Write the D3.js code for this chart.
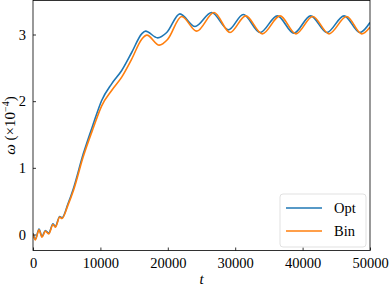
<!DOCTYPE html>
<html>
<head>
<meta charset="utf-8">
<script src="https://cdn.jsdelivr.net/npm/d3@7"></script>
<style>
  body { margin: 0; background: #fff; }
  svg text { font-family: "Liberation Serif", "DejaVu Serif", serif; }
</style>
</head>
<body>
<svg id="chart" width="391" height="289"></svg>
<script>
// series
const optT = [0, 350, 890, 1335, 1825, 2330, 2970, 3310, 3960, 4300, 5190, 6000, 7460, 8950, 10190, 11670, 13160, 14640, 16130, 16700, 18500, 19840, 21800, 24040, 26500, 29000, 31200, 33700, 36250, 38700, 41200, 43600, 46150, 48500, 50000];
const optW = [0.02, -0.07, 0.08, -0.03, 0.06, 0.02, 0.16, 0.12, 0.27, 0.25, 0.46, 0.69, 1.21, 1.66, 2.01, 2.26, 2.46, 2.73, 3.01, 3.05, 2.95, 3.03, 3.31, 3.12, 3.33, 3.07, 3.30, 3.03, 3.28, 3.02, 3.28, 3.03, 3.28, 3.03, 3.18];
const binT = [0, 350, 890, 1335, 1825, 2330, 2970, 3310, 3960, 4300, 5190, 6000, 7460, 8950, 10190, 11670, 13160, 14640, 16130, 16900, 18740, 20000, 22060, 24290, 26860, 29230, 31560, 34020, 36650, 39020, 41500, 43920, 46540, 48770, 50000];
const binW = [0.01, -0.08, 0.07, -0.04, 0.05, 0.01, 0.15, 0.11, 0.26, 0.24, 0.44, 0.66, 1.17, 1.60, 1.93, 2.16, 2.36, 2.63, 2.93, 2.99, 2.84, 2.93, 3.27, 3.05, 3.33, 3.03, 3.28, 3.01, 3.28, 3.01, 3.27, 3.01, 3.27, 3.01, 3.11];
const xTicks = [0, 10000, 20000, 30000, 40000, 50000];
const yTicks = [0, 1, 2, 3];
const names = ["Opt", "Bin"];
const colors = ["#1f77b4", "#ff7f0e"];

var svg = d3.select("#chart");
var mLeft = 33, mRight = 370, mTop = 0.5, mBottom = 250.5;

var x = d3.scaleLinear().domain([0, 50000]).range([mLeft, mRight]);
var y = d3.scaleLinear().domain([-0.24, 3.51]).range([mBottom, mTop]);

var line = d3.line()
  .x(function(d) { return x(d[0]); })
  .y(function(d) { return y(d[1]); })
  .curve(d3.curveMonotoneX);

var series = [d3.zip(optT, optW), d3.zip(binT, binW)];

svg.append("defs").append("clipPath").attr("id", "clip")
  .append("rect").attr("x", mLeft).attr("y", mTop).attr("width", mRight - mLeft).attr("height", mBottom - mTop);

var plot = svg.append("g").attr("clip-path", "url(#clip)");
plot.selectAll("path")
  .data(series)
  .enter()
  .append("path")
  .attr("d", line)
  .attr("fill", "none")
  .attr("stroke", function(d, i) { return colors[i]; })
  .attr("stroke-width", 1.6);

// axes, ticks pointing inward
var xAxis = svg.append("g").attr("transform", "translate(0," + mBottom + ")")
  .call(d3.axisBottom(x).tickValues(xTicks).tickFormat(d3.format("d")).tickSizeInner(-3).tickSizeOuter(0).tickPadding(7));
var yAxis = svg.append("g").attr("transform", "translate(" + mLeft + ",0)")
  .call(d3.axisLeft(y).tickValues(yTicks).tickFormat(d3.format("d")).tickSizeInner(-3).tickSizeOuter(0).tickPadding(7));

[xAxis, yAxis].forEach(function(a) {
  a.select(".domain").remove();
  a.selectAll("line").attr("stroke", "#000").attr("stroke-width", 0.8);
  a.selectAll("text").attr("font-size", 14.5).attr("fill", "#000")
    .style("font-family", "'Liberation Serif', serif");
});

// frame
svg.append("rect")
  .attr("x", mLeft).attr("y", mTop)
  .attr("width", mRight - mLeft).attr("height", mBottom - mTop)
  .attr("fill", "none").attr("stroke", "#000").attr("stroke-width", 0.8);

// labels
svg.append("text")
  .attr("x", (mLeft + mRight) / 2).attr("y", 284)
  .attr("text-anchor", "middle").attr("font-size", 15).attr("font-style", "italic")
  .text("t");

var yl = svg.append("text")
  .attr("transform", "translate(15," + ((mTop + mBottom) / 2) + ") rotate(-90)")
  .attr("text-anchor", "middle").attr("font-size", 15);
yl.append("tspan").attr("font-style", "italic").text("ω");
yl.append("tspan").text(" (×10");
yl.append("tspan").attr("font-size", 10).attr("dy", -6).text("−4");
yl.append("tspan").attr("dy", 6).text(")");

// legend
var lg = svg.append("g").attr("transform", "translate(280,194)");
lg.append("rect").attr("width", 86).attr("height", 53).attr("rx", 3)
  .attr("fill", "#fff").attr("fill-opacity", 0.8).attr("stroke", "#d9d9d9").attr("stroke-width", 0.8);
names.forEach(function(n, i) {
  var yy = 14 + i * 23;
  lg.append("line").attr("x1", 6).attr("x2", 42).attr("y1", yy).attr("y2", yy)
    .attr("stroke", colors[i]).attr("stroke-width", 1.6);
  lg.append("text").attr("x", 54).attr("y", yy + 5).attr("font-size", 14.5).text(n);
});
</script>
</body>
</html>
